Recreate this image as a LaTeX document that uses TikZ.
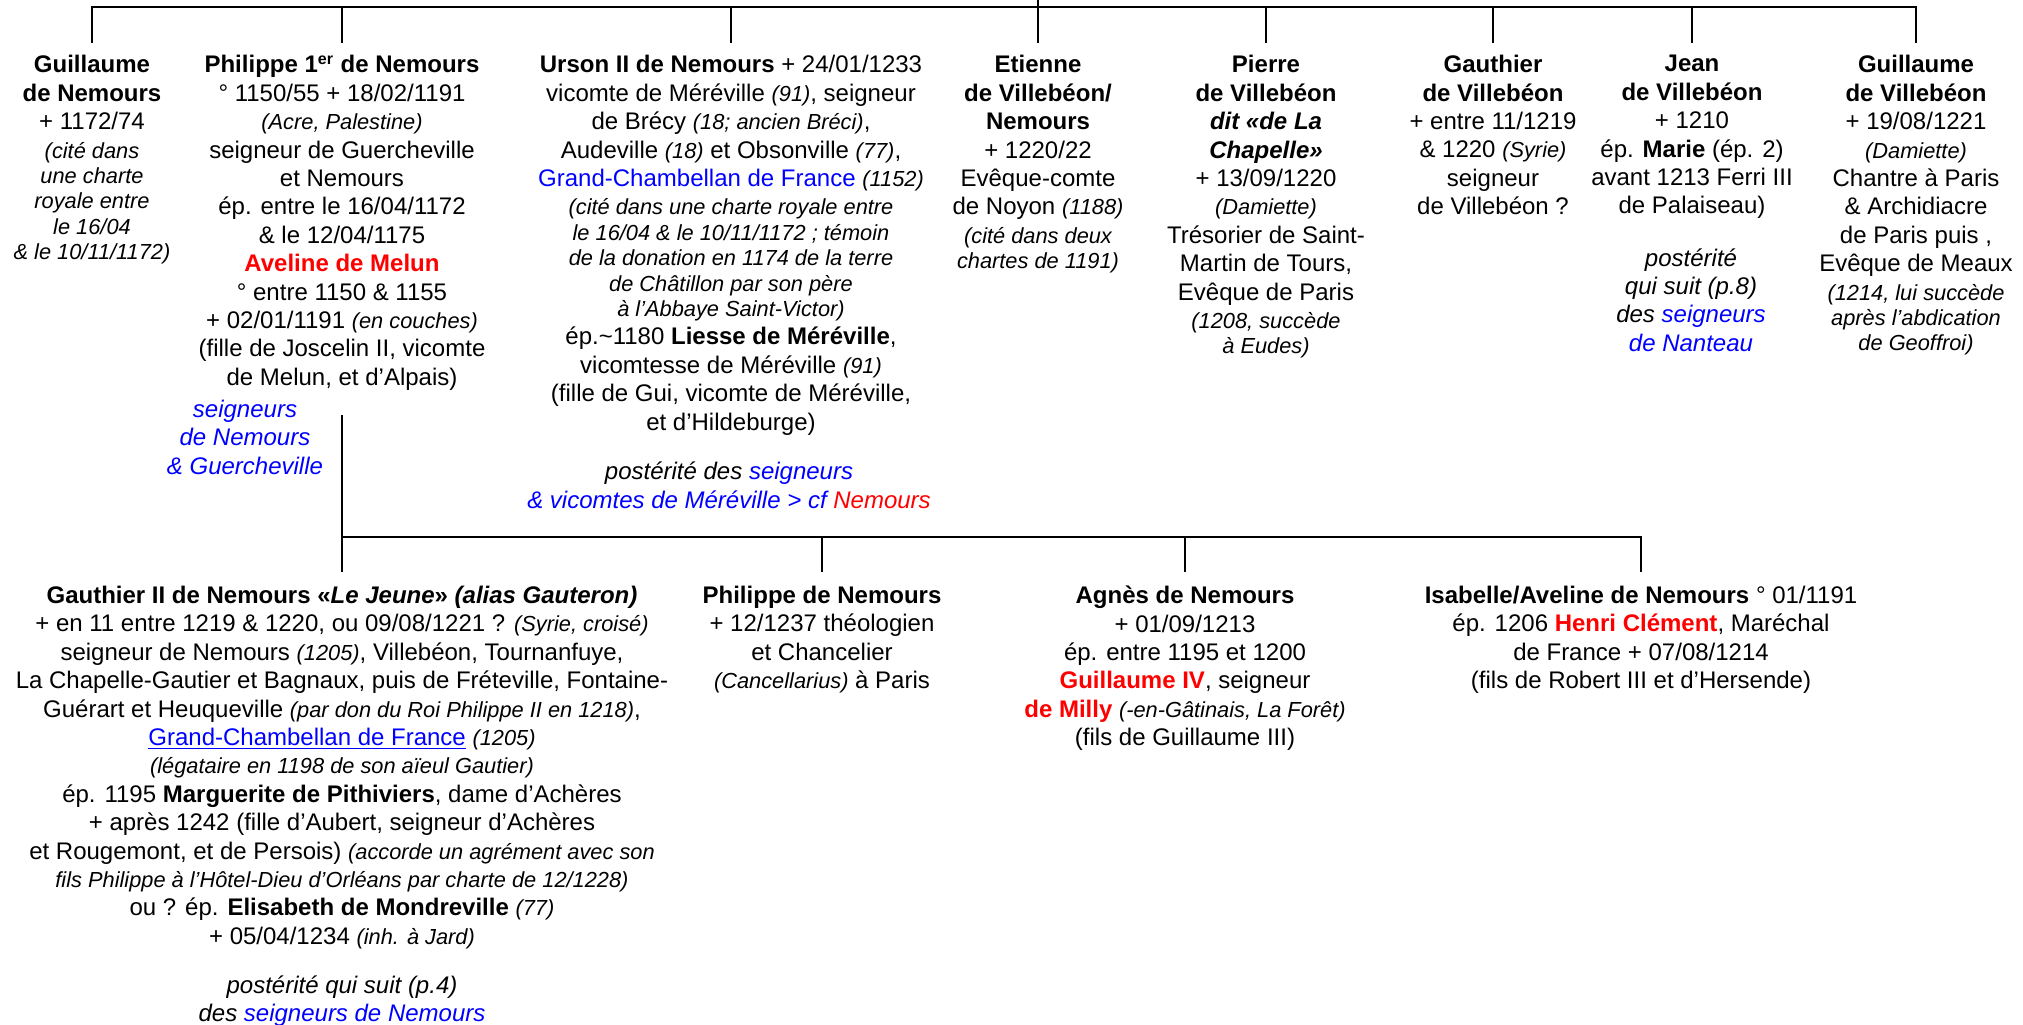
\documentclass[tikz,border=0pt]{standalone}
\usepackage{fontspec}
\setmainfont{Liberation Sans}
\newcommand\smit[1]{{\fontsize{10.9}{12.6}\selectfont\itshape #1}}
\begin{document}
\begin{tikzpicture}[x=0.5pt,y=-0.5pt,
  person/.style={anchor=north,align=center,inner sep=0pt,font=\fontsize{12}{14.2}\selectfont,
    execute at begin node={\rule{0pt}{11pt}}},
  post/.style={person,font=\fontsize{12}{14.2}\selectfont\itshape},
  conn/.style={line width=1.3pt,black}]
\useasboundingbox[fill=white] (0,0) rectangle (2023,1024);
% named coordinates
\coordinate (top) at (1038,0);
\coordinate (bus) at (0,7);
\coordinate (tk) at (0,43);
\coordinate (phd) at (0,415);
\coordinate (bus2) at (0,537);
\coordinate (tk2) at (0,572);
% first generation
\node[person] (g1) at (92,55) {\textbf{Guillaume}\\ \textbf{de Nemours}\\ + 1172/74\\ \smit{(cité dans}\\[-1.5pt] \smit{une charte}\\[-1.5pt] \smit{royale entre}\\[-1.5pt] \smit{le 16/04}\\[-1.5pt] \smit{\& le 10/11/1172)}};
\node[person] (ph) at (342,55) {\textbf{Philippe 1\textsuperscript{er} de Nemours}\\
° 1150/55 + 18/02/1191\\
\smit{(Acre, Palestine)}\\
seigneur de Guercheville\\
et Nemours\\
ép. entre le 16/04/1172\\
\& le 12/04/1175\\
\textcolor{red}{\textbf{Aveline de Melun}}\\
° entre 1150 \& 1155\\
+ 02/01/1191 \smit{(en couches)}\\
(fille de Joscelin II, vicomte\\
de Melun, et d’Alpais)};
\node[post,text=blue] (phs) at (245,399.6) {seigneurs\\ de Nemours\\ \& Guercheville};
\node[person] (ur) at (731,55) {\textbf{Urson II de Nemours} + 24/01/1233\\
vicomte de Méréville \smit{(91)}, seigneur\\
de Brécy \smit{(18; ancien Bréci)},\\
Audeville \smit{(18)} et Obsonville \smit{(77)},\\
\textcolor{blue}{Grand-Chambellan de France} \smit{(1152)}\\
\smit{(cité dans une charte royale entre}\\[-1.5pt]
\smit{le 16/04 \& le 10/11/1172 ; témoin}\\[-1.5pt]
\smit{de la donation en 1174 de la terre}\\[-1.5pt]
\smit{de Châtillon par son père}\\[-1.5pt]
\smit{à l’Abbaye Saint-Victor)}\\
ép.\textasciitilde1180 \textbf{Liesse de Méréville},\\
vicomtesse de Méréville \smit{(91)}\\
(fille de Gui, vicomte de Méréville,\\
et d’Hildeburge)};
\node[post] (urp) at (729,461.6) {postérité des \textcolor{blue}{seigneurs}\\ \textcolor{blue}{\& vicomtes de Méréville > cf} \textcolor{red}{Nemours}};
\node[person] (et) at (1038,55) {\textbf{Etienne}\\ \textbf{de Villebéon/}\\ \textbf{Nemours}\\ + 1220/22\\ Evêque-comte\\ de Noyon \smit{(1188)}\\ \smit{(cité dans deux}\\[-1.5pt] \smit{chartes de 1191)}};
\node[person] (pi) at (1266,55) {\textbf{Pierre}\\ \textbf{de Villebéon}\\ \textbf{\itshape dit «de La}\\ \textbf{\itshape Chapelle»}\\ + 13/09/1220\\ \smit{(Damiette)}\\ Trésorier de Saint-\\ Martin de Tours,\\ Evêque de Paris\\ \smit{(1208, succède}\\[-1.5pt] \smit{à Eudes)}};
\node[person] (ga) at (1493,55) {\textbf{Gauthier}\\ \textbf{de Villebéon}\\ + entre 11/1219\\ \& 1220 \smit{(Syrie)}\\ seigneur\\ de Villebéon ?};
\node[person] (je) at (1692,55) {\textbf{Jean}\\ \textbf{de Villebéon}\\ + 1210\\ ép. \textbf{Marie} (ép. 2)\\ avant 1213 Ferri III\\ de Palaiseau)};
\node[post] (jep) at (1691,248) {postérité\\ qui suit (p.8)\\ des \textcolor{blue}{seigneurs}\\ \textcolor{blue}{de Nanteau}};
\node[person] (g2) at (1916,55) {\textbf{Guillaume}\\ \textbf{de Villebéon}\\ + 19/08/1221\\ \smit{(Damiette)}\\ Chantre à Paris\\ \& Archidiacre\\ de Paris puis ,\\ Evêque de Meaux\\ \smit{(1214, lui succède}\\[-1.5pt] \smit{après l’abdication}\\[-1.5pt] \smit{de Geoffroi)}};
% second generation
\node[person] (gt) at (342,585.6) {\textbf{Gauthier II de Nemours «\textit{Le Jeune}» \textit{(alias Gauteron)}}\\
+ en 11 entre 1219 \& 1220, ou 09/08/1221 ? \smit{(Syrie, croisé)}\\
seigneur de Nemours \smit{(1205)}, Villebéon, Tournanfuye,\\
La Chapelle-Gautier et Bagnaux, puis de Fréteville, Fontaine-\\
Guérart et Heuqueville \smit{(par don du Roi Philippe II en 1218)},\\
\textcolor{blue}{\underline{Grand-Chambellan de France}} \smit{(1205)}\\
\smit{(légataire en 1198 de son aïeul Gautier)}\\
ép. 1195 \textbf{Marguerite de Pithiviers}, dame d’Achères\\
+ après 1242 (fille d’Aubert, seigneur d’Achères\\
et Rougemont, et de Persois) \smit{(accorde un agrément avec son}\\
\smit{fils Philippe à l’Hôtel-Dieu d’Orléans par charte de 12/1228)}\\
ou ? ép. \textbf{Elisabeth de Mondreville} \smit{(77)}\\
+ 05/04/1234 \smit{(inh. à Jard)}};
\node[post] (gtp) at (342,975) {postérité qui suit (p.4)\\ des \textcolor{blue}{seigneurs de Nemours}};
\node[person] (pn) at (822,585.6) {\textbf{Philippe de Nemours}\\ + 12/1237 théologien\\ et Chancelier\\ \smit{(Cancellarius)} à Paris};
\node[person] (ag) at (1185,585.6) {\textbf{Agnès de Nemours}\\ + 01/09/1213\\ ép. entre 1195 et 1200\\ \textcolor{red}{\textbf{Guillaume IV}}, seigneur\\ \textcolor{red}{\textbf{de Milly}} \smit{(-en-Gâtinais, La Forêt)}\\ (fils de Guillaume III)};
\node[person] (is) at (1641,585.6) {\textbf{Isabelle/Aveline de Nemours} ° 01/1191\\ ép. 1206 \textcolor{red}{\textbf{Henri Clément}}, Maréchal\\ de France + 07/08/1214\\ (fils de Robert III et d’Hersende)};
% connectors, first generation
\draw[conn] (g1.north |- tk) -- (g1.north |- bus) -- (g2.north |- bus) -- (g2.north |- tk);
\draw[conn] (top) -- (et.north |- tk);
\foreach \n in {ph,ur,pi,ga,je}
  \draw[conn] (\n.north |- bus) -- (\n.north |- tk);
% connectors, second generation
\draw[conn] (ph.south |- phd) -- (gt.north |- tk2);
\draw[conn] (gt.north |- bus2) -- (is.north |- bus2) -- (is.north |- tk2);
\foreach \n in {pn,ag}
  \draw[conn] (\n.north |- bus2) -- (\n.north |- tk2);
\end{tikzpicture}
\end{document}
